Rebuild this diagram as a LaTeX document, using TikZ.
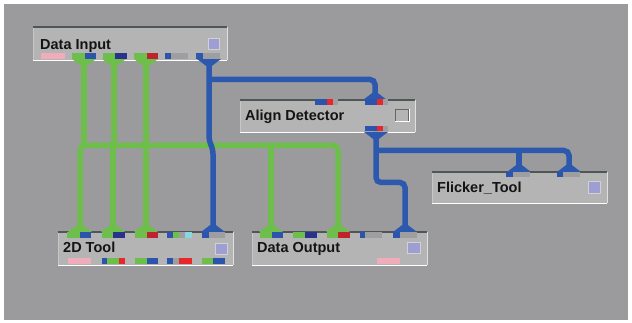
\documentclass[tikz,border=0pt]{standalone}
\usepackage{fontspec}
\setmainfont{Liberation Sans}
\definecolor{bgGray}{RGB}{155,155,157}
\definecolor{boxGray}{RGB}{180,180,180}
\definecolor{edgeDark}{RGB}{78,86,86}
\definecolor{wireGreen}{RGB}{110,190,75}
\definecolor{wireBlue}{RGB}{44,88,174}
\definecolor{portBlue}{RGB}{44,84,172}
\definecolor{portNavy}{RGB}{42,50,140}
\definecolor{portRed}{RGB}{190,36,46}
\definecolor{portRedB}{RGB}{232,38,44}
\definecolor{portPink}{RGB}{240,172,186}
\definecolor{portGray}{RGB}{158,158,160}
\definecolor{portCyan}{RGB}{136,214,224}
\definecolor{btnPurple}{RGB}{158,158,212}
\begin{document}
\begin{tikzpicture}[x=1pt,y=-1pt]
	\tikzstyle{modbox}=[fill=boxGray, inner sep=0pt, anchor=north west]
	\tikzstyle{modtitle}=[anchor=base west, inner sep=0pt, text=black!92, font=\bfseries\fontsize{14.5}{16}\selectfont]
	\tikzstyle{btn}=[fill=btnPurple, draw=white!82!black, line width=1pt, inner sep=0pt, anchor=north west]
	\tikzstyle{gwire}=[wireGreen, line width=5.5pt]
	\tikzstyle{bwire}=[wireBlue, line width=5.5pt, rounded corners=5pt]

	% background
	\fill[white] (0,0) rectangle (632,323);
	\fill[bgGray] (4,4) rectangle (628,320);
	\useasboundingbox (0,0) rectangle (632,323);

	% modules
	\node[modbox, minimum width=194pt, minimum height=33pt] (DI) at (33,27) {};
	\node[modbox, minimum width=175pt, minimum height=32pt] (AD) at (240,100) {};
	\node[modbox, minimum width=175pt, minimum height=31pt] (FT) at (432,172) {};
	\node[modbox, minimum width=175pt, minimum height=33pt] (TT) at (58,232) {};
	\node[modbox, minimum width=175pt, minimum height=33pt] (DO) at (252,232) {};

	\foreach \b in {DI,AD,FT,TT,DO} {
		\draw[white!78!black, line width=0.8pt] (\b.north west) -- (\b.south west);
		\draw[white!88!black, line width=0.8pt] (\b.north east) -- (\b.south east);
		\draw[white, line width=1.5pt] (\b.south west) -- (\b.south east);
		\draw[edgeDark, line width=2pt] (\b.north west) -- (\b.north east);
	}

	% ports
	\coordinate (DIo1) at (84,59);
	\coordinate (DIo2) at (114,59);
	\coordinate (DIo3) at (146,59);
	\coordinate (DIo5) at (209,59);
	\coordinate (TTi1) at (80,232);
	\coordinate (TTi2) at (113,232);
	\coordinate (TTi3) at (146,232);
	\coordinate (TTi5) at (213,232);
	\coordinate (DOi1) at (271,232);
	\coordinate (DOi3) at (338,232);
	\coordinate (DOi5) at (405,232);
	\coordinate (ADi) at (375,100);
	\coordinate (ADo) at (376,132);
	\coordinate (FTi1) at (519,172);
	\coordinate (FTi2) at (569,172);

	\coordinate (gbus) at (0,145.5);
	\coordinate (bbus) at (0,79.5);
	\coordinate (fbus) at (0,150.5);
	\coordinate (obus) at (0,182.5);
	\coordinate (jogA) at (209,141);
	\coordinate (jogB) at (213,149);

	% green wires
	\draw[gwire, rounded corners=5pt] (TTi1) -- (TTi1 |- gbus) -- (DOi3 |- gbus) -- (DOi3);
	\foreach \p in {TTi2,TTi3,DOi1}
		\draw[gwire] (\p |- gbus) -- (\p);
	\foreach \p in {DIo1,DIo2,DIo3}
		\draw[gwire] (\p) -- (\p |- gbus);

	% blue wires
	\draw[bwire] (ADi) |- (DIo5 |- bbus);
	\draw[bwire] (DIo5) -- (jogA) -- (jogB) -- (TTi5);
	\draw[bwire] (ADo) |- (DOi5 |- obus) -- (DOi5);
	\draw[bwire] (ADo |- fbus) -| (FTi2);
	\draw[bwire, rounded corners=0pt] (FTi1 |- fbus) -- (FTi1);

	% wire heads
	\foreach \p in {TTi1,TTi2,TTi3,DOi1,DOi3}
		\fill[wireGreen] (\p) ++(-12,0) -- ++(24,0) -- ++(-9.2,-7) -- ++(-5.6,0) -- cycle;
	\foreach \p in {DIo1,DIo2,DIo3}
		\fill[wireGreen] (\p) ++(-12,0) -- ++(24,0) -- ++(-9.2,7) -- ++(-5.6,0) -- cycle;
	\foreach \p in {TTi5,DOi5,ADi,FTi1,FTi2}
		\fill[wireBlue] (\p) ++(-12,0) -- ++(24,0) -- ++(-9.2,-7) -- ++(-5.6,0) -- cycle;
	\foreach \p in {DIo5,ADo}
		\fill[wireBlue] (\p) ++(-12,0) -- ++(24,0) -- ++(-9.2,7) -- ++(-5.6,0) -- cycle;

	% port strips
	\foreach \a/\b/\c in {41/65/portPink, 72/85/wireGreen, 85/96/portBlue, 103/115/wireGreen, 115/127/portNavy, 134/147/wireGreen, 147/158/portRed, 165/171/portBlue, 171/188/portGray, 196/203/wireBlue, 203/220/portGray}
		\fill[\c] (\a,53) rectangle (\b,59);
	\foreach \a/\b/\c in {315/327/portBlue, 327/333/portRedB, 333/338/portGray, 365/377/portBlue, 377/383/portRedB, 383/388/portGray}
		\fill[\c] (\a,99) rectangle (\b,105);
	\foreach \a/\b/\c in {365/377/portBlue, 377/383/portRedB, 383/388/portGray}
		\fill[\c] (\a,126) rectangle (\b,131.5);
	\foreach \a/\b/\c in {506/513/portBlue, 513/530/portGray, 557/563/portBlue, 563/580/portGray}
		\fill[\c] (\a,172) rectangle (\b,177.5);
	\foreach \a/\b/\c in {67/80/wireGreen, 80/91/portBlue, 102/113/wireGreen, 113/125/portNavy, 135/147/wireGreen, 147/158/portRed, 167/173/portBlue, 173/179/wireGreen, 179/185/portGray, 185/192/portCyan, 202/209/portBlue, 209/225/portGray}
		\fill[\c] (\a,232) rectangle (\b,238);
	\foreach \a/\b/\c in {68/91/portPink, 102/107/portBlue, 107/119/wireGreen, 119/125/portRedB, 135/147/wireGreen, 147/158/portBlue, 167/173/portBlue, 173/179/portGray, 179/192/portRedB, 202/213/wireGreen, 213/225/portBlue}
		\fill[\c] (\a,258) rectangle (\b,264);
	\foreach \a/\b/\c in {260/272/wireGreen, 272/283/portBlue, 293/305/wireGreen, 305/317/portNavy, 327/338/wireGreen, 338/350/portRed, 360/365/portBlue, 365/382/portGray, 393/400/portBlue, 400/417/portGray}
		\fill[\c] (\a,232) rectangle (\b,238);
	\fill[portPink] (377,258) rectangle (400,264);

	% titles
	\node[modtitle] (DItitle) at (40,49.3) {Data Input};
	\node[modtitle] (ADtitle) at (245,121) {Align Detector};
	\node[modtitle] (FTtitle) at (437,193) {Flicker\_Tool};
	\node[modtitle] (TTtitle) at (63,253) {2D Tool};
	\node[modtitle] (DOtitle) at (257,253) {Data Output};

	% buttons
	\node[btn, minimum width=11pt, minimum height=11pt] (DIbtn) at (208,38) {};
	\node[btn, minimum width=12pt, minimum height=12pt] (FTbtn) at (588,181) {};
	\node[btn, minimum width=12pt, minimum height=11pt] (TTbtn) at (215,243) {};
	\node[btn, minimum width=13pt, minimum height=11pt] (DObtn) at (407,242) {};
	\node[btn, fill=boxGray, draw=black!60, minimum width=13pt, minimum height=12pt] (ADbtn) at (395,109) {};
	\draw[white, line width=1pt] (ADbtn.south west) -- (ADbtn.south east) -- (ADbtn.north east);
\end{tikzpicture}
\end{document}
